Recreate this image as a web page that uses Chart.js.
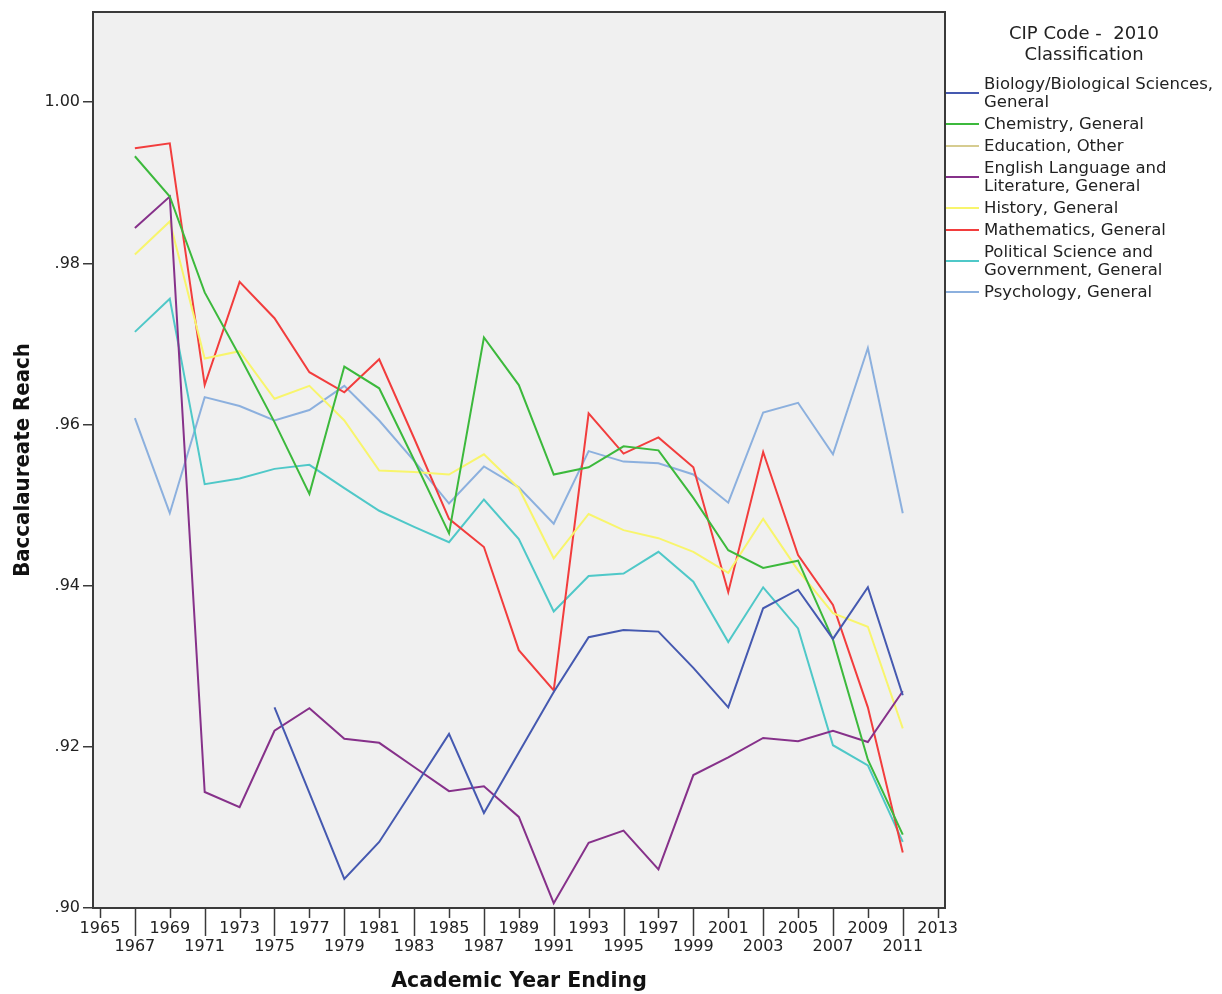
<!DOCTYPE html>
<html>
<head>
  <meta charset="UTF-8">
  <title>Baccalaureate Reach</title>
  <script src="https://cdn.jsdelivr.net/npm/chart.js"></script>
  <style>
    body { margin: 0; background: #fff; }
    #wrap { position: relative; width: 1222px; height: 994px; }
    #legend { position: absolute; left: 946px; top: 22px; width: 276px; font-family: "DejaVu Sans", sans-serif; color: #222; }
    #legend .title { font-size: 18px; line-height: 21px; text-align: center; width: 276px; margin-bottom: 11px; white-space: pre; }
    #legend .item { display: flex; align-items: center; margin-bottom: 4px; }
    #legend .swatch { width: 33px; height: 2px; margin-right: 5px; flex: none; }
    #legend .label { font-size: 16.5px; line-height: 18px; white-space: pre; }
  </style>
</head>
<body>
<div id="wrap">
  <canvas id="chart" width="1222" height="994"></canvas>
  <div id="legend"></div>
</div>
<script>
const years = [1967, 1969, 1971, 1973, 1975, 1977, 1979, 1981, 1983, 1985, 1987, 1989,
               1991, 1993, 1995, 1997, 1999, 2001, 2003, 2005, 2007, 2009, 2011];

const biology   = [null, null, null, null, 0.9249, 0.9143, 0.9036, 0.9082, 0.9149, 0.9216, 0.9118, 0.9193,
                   0.9268, 0.9336, 0.9345, 0.9343, 0.9298, 0.9249, 0.9372, 0.9395, 0.9334, 0.9398, 0.9264];
const chemistry = [0.9933, 0.9883, 0.9764, 0.9685, 0.9603, 0.9514, 0.9672, 0.9645, 0.9556, 0.9465, 0.9708, 0.9649,
                   0.9538, 0.9547, 0.9573, 0.9568, 0.9509, 0.9444, 0.9422, 0.9431, 0.9333, 0.9184, 0.9091];
const education = years.map(() => null);
const english   = [0.9844, 0.9883, 0.9144, 0.9125, 0.9220, 0.9248, 0.9210, 0.9205, 0.9175, 0.9145, 0.9151, 0.9113,
                   0.9006, 0.9081, 0.9096, 0.9048, 0.9165, 0.9187, 0.9211, 0.9207, 0.9220, 0.9206, 0.9269];
const history   = [0.9811, 0.9852, 0.9682, 0.9691, 0.9632, 0.9648, 0.9605, 0.9543, 0.9541, 0.9538, 0.9563, 0.9521,
                   0.9434, 0.9489, 0.9469, 0.9459, 0.9442, 0.9416, 0.9483, 0.9419, 0.9366, 0.9349, 0.9223];
const math      = [0.9943, 0.9949, 0.9649, 0.9777, 0.9732, 0.9665, 0.9640, 0.9681, 0.9583, 0.9483, 0.9448, 0.9320,
                   0.9270, 0.9614, 0.9564, 0.9584, 0.9547, 0.9392, 0.9566, 0.9438, 0.9376, 0.9249, 0.9069];
const polisci   = [0.9715, 0.9756, 0.9526, 0.9533, 0.9545, 0.9550, 0.9521, 0.9493, 0.9473, 0.9454, 0.9507, 0.9458,
                   0.9368, 0.9412, 0.9415, 0.9442, 0.9405, 0.9330, 0.9398, 0.9347, 0.9202, 0.9177, 0.9082];
const psychology = [0.9608, 0.9490, 0.9634, 0.9623, 0.9605, 0.9618, 0.9648, 0.9605, 0.9555, 0.9502, 0.9548, 0.9522,
                    0.9477, 0.9567, 0.9554, 0.9552, 0.9538, 0.9503, 0.9615, 0.9627, 0.9563, 0.9695, 0.9490];

const seriesNames = ['Biology/Biological Sciences,\nGeneral', 'Chemistry, General', 'Education, Other',
                     'English Language and\nLiterature, General', 'History, General', 'Mathematics, General',
                     'Political Science and\nGovernment, General', 'Psychology, General'];
const seriesData = [biology, chemistry, education, english, history, math, polisci, psychology];
const seriesColors = ['#4559b0', '#3cb93c', '#d6cc90', '#86318a', '#f8f56c', '#f23d3d', '#4fc8c8', '#8cb0de'];

const xTicks = [];
for (let y = 1965; y <= 2013; y += 2) xTicks.push(y);
const yTicks = [0.90, 0.92, 0.94, 0.96, 0.98, 1.00];

const tickFont = { family: 'DejaVu Sans', size: 16, lineHeight: 1.125 };
const axisColor = '#3a3a3a';

// grey plot box with a frame, plus the x tick marks (long ones under the second label row)
const plotBox = {
  id: 'plotBox',
  beforeDraw(chart) {
    const a = chart.chartArea, ctx = chart.ctx;
    ctx.save();
    ctx.fillStyle = '#f0f0f0';
    ctx.fillRect(a.left, a.top, a.right - a.left, a.bottom - a.top);
    ctx.restore();
  },
  afterDraw(chart) {
    const a = chart.chartArea, ctx = chart.ctx, xs = chart.scales.x;
    ctx.save();
    ctx.strokeStyle = axisColor;
    ctx.lineWidth = 2;
    ctx.strokeRect(a.left, a.top, a.right - a.left, a.bottom - a.top);
    ctx.lineWidth = 1.5;
    xs.ticks.forEach((t, i) => {
      const px = Math.round(xs.getPixelForValue(t.value)) + 0.5;
      ctx.beginPath();
      ctx.moveTo(px, a.bottom);
      ctx.lineTo(px, a.bottom + (i % 2 ? 28 : 10));
      ctx.stroke();
    });
    ctx.restore();
  }
};

new Chart(document.getElementById('chart'), {
  type: 'line',
  data: {
    datasets: seriesData.map((vals, i) => ({
      label: seriesNames[i],
      data: years.map((yr, j) => ({ x: yr, y: vals[j] })),
      borderColor: seriesColors[i],
      borderWidth: 2,
      pointRadius: 0,
      tension: 0,
      fill: false,
      spanGaps: false
    }))
  },
  options: {
    responsive: false,
    animation: false,
    layout: { padding: { top: 12, right: 277, left: 0, bottom: 0 } },
    plugins: { legend: { display: false }, tooltip: { enabled: false } },
    scales: {
      x: {
        type: 'linear',
        min: 1964.6,
        max: 2013.42,
        afterBuildTicks: s => { s.ticks = xTicks.map(v => ({ value: v })); },
        afterFit: s => { s.height = 86; },
        grid: { display: false },
        border: { display: false },
        ticks: {
          font: tickFont,
          color: '#222',
          padding: 4,
          maxRotation: 0,
          autoSkip: false,
          callback: (v, i) => (i % 2 ? ['', String(v)] : String(v))
        },
        title: {
          display: true,
          text: 'Academic Year Ending',
          color: '#111',
          font: { family: 'DejaVu Sans', size: 20.5, weight: 'bold', lineHeight: 1.2 },
          padding: { top: 0, bottom: 0 }
        }
      },
      y: {
        min: 0.9,
        max: 1.0112,
        afterBuildTicks: s => { s.ticks = yTicks.map(v => ({ value: v })); },
        afterFit: s => { s.width = 93; },
        grid: { drawOnChartArea: false, tickLength: 10, color: axisColor, lineWidth: 1.5 },
        border: { display: false },
        ticks: {
          font: tickFont,
          color: '#222',
          padding: 3,
          callback: v => v.toFixed(2).replace(/^0/, '')
        },
        title: {
          display: true,
          text: 'Baccalaureate Reach',
          color: '#111',
          font: { family: 'DejaVu Sans Condensed', size: 22, weight: 'bold', lineHeight: 1.2 },
          padding: { top: 10, bottom: 0 }
        }
      }
    }
  },
  plugins: [plotBox]
});

// legend on the right, built from the same series lists
const legend = document.getElementById('legend');
legend.innerHTML = '<div class="title">CIP Code -  2010\nClassification</div>' +
  seriesNames.map((n, i) =>
    '<div class="item"><div class="swatch" style="background:' + seriesColors[i] + '"></div>' +
    '<div class="label">' + n + '</div></div>').join('');
</script>
</body>
</html>
